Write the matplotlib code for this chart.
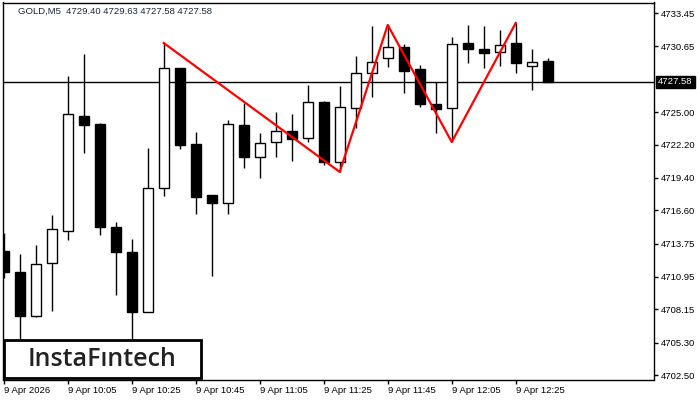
import matplotlib
matplotlib.use("Agg")
import matplotlib.pyplot as plt
from matplotlib.patches import Rectangle

plt.rcParams["font.family"] = ["Liberation Sans", "DejaVu Sans"]

# candle data (M5)
opens = [4713.14, 4711.34, 4707.58, 4712.11, 4714.85, 4724.67, 4723.99, 4715.19, 4713.05, 4707.92,
         4718.52, 4728.78, 4722.28, 4717.92, 4717.24, 4723.91, 4721.17, 4722.45, 4723.39, 4722.79,
         4725.87, 4720.74, 4725.36, 4728.35, 4729.63, 4730.57, 4728.69, 4725.70, 4725.36, 4730.91,
         4730.40, 4730.14, 4730.91, 4728.95, 4729.40]
highs = [4714.67, 4712.88, 4713.65, 4716.21, 4728.09, 4729.97, 4724.08, 4715.61, 4714.16, 4721.94,
         4730.91, 4728.78, 4723.31, 4717.92, 4724.33, 4725.79, 4723.22, 4725.02, 4724.85, 4727.32,
         4725.96, 4727.24, 4729.80, 4732.37, 4732.45, 4730.83, 4729.03, 4727.58, 4731.43, 4732.45,
         4732.37, 4732.02, 4732.62, 4730.40, 4729.63]
lows = [4710.83, 4705.44, 4707.49, 4708.01, 4714.08, 4721.51, 4714.50, 4709.37, 4705.53, 4707.92,
        4717.84, 4721.85, 4716.30, 4711.00, 4716.30, 4720.23, 4719.37, 4721.17, 4720.83, 4722.45,
        4720.49, 4719.89, 4723.65, 4726.30, 4728.86, 4726.64, 4725.44, 4723.22, 4722.45, 4729.20,
        4728.78, 4728.95, 4728.35, 4726.90, 4727.58]
closes = [4711.34, 4707.58, 4712.02, 4715.02, 4724.85, 4723.91, 4715.19, 4713.05, 4707.92, 4718.52,
          4728.78, 4722.20, 4717.75, 4717.24, 4723.99, 4721.17, 4722.37, 4723.39, 4722.71, 4725.87,
          4720.74, 4725.44, 4728.35, 4729.29, 4730.57, 4728.52, 4725.70, 4725.27, 4730.83, 4730.40,
          4730.06, 4730.74, 4729.20, 4729.29, 4727.58]

x_label_pos = [0, 4, 8, 12, 16, 20, 24, 28, 32]
x_labels = ["9 Apr 2026", "9 Apr 10:05", "9 Apr 10:25", "9 Apr 10:45", "9 Apr 11:05",
            "9 Apr 11:25", "9 Apr 11:45", "9 Apr 12:05", "9 Apr 12:25"]

y_ticks = [4733.45, 4730.65, 4725.00, 4722.20, 4719.40, 4716.60, 4713.75,
           4710.95, 4708.15, 4705.30, 4702.50]

# triple top pattern line
pattern_idx = [10, 21, 24, 28, 32]
pattern_price = [4730.91, 4719.89, 4732.45, 4722.45, 4732.62]

last_price = 4727.58
title = "GOLD,M5  4729.40 4729.63 4727.58 4727.58"

fig = plt.figure(figsize=(7, 4), dpi=100)
ax = fig.add_axes([3 / 700, 20.5 / 400, 651 / 700, 377 / 400])

for i in range(len(opens)):
    o, h, l, c = opens[i], highs[i], lows[i], closes[i]
    ax.vlines(i, l, h, color="black", lw=1, zorder=2)
    fc = "white" if c >= o else "black"
    ax.bar(i, max(abs(c - o), 0.05), bottom=min(o, c), width=0.62,
           facecolor=fc, edgecolor="black", lw=1, zorder=3)

ax.axhline(last_price, color="black", lw=1, zorder=1)
ax.plot(pattern_idx, pattern_price, color="red", lw=1.6, zorder=4)

ax.set_xlim(-0.044, 40.64)
ax.set_ylim(4702.15, 4734.37)

ax.yaxis.tick_right()
ax.set_yticks(y_ticks)
ax.set_yticklabels([f"{v:.2f}" for v in y_ticks])
ax.set_xticks(x_label_pos)
ax.set_xticklabels(x_labels, ha="left")
ax.tick_params(axis="both", direction="out", length=3, width=1, labelsize=6.8, pad=2, colors="black")
for sp in ax.spines.values():
    sp.set_linewidth(1)

ax.annotate(f"{last_price:.2f}", xy=(1, last_price), xycoords=("axes fraction", "data"),
            xytext=(3, 0), textcoords="offset points", ha="left", va="center",
            fontsize=6.8, color="white",
            bbox=dict(boxstyle="square,pad=0.2", fc="black", ec="black"))

fig.text(18 / 700, 1 - 11 / 400, title, fontsize=6.8, color="#1b2738", va="center")

# logo box
fig.add_artist(Rectangle((4 / 700, 1 - 378 / 400), 197 / 700, 38 / 400, transform=fig.transFigure,
                         facecolor="white", edgecolor="black", lw=2, zorder=5))
fig.text(102 / 700, 1 - 359 / 400, "InstaF\u0131ntech", fontsize=18, family="Open Sans",
         weight="semibold", color="#222222", ha="center", va="center", zorder=6)

fig.savefig("out.png", dpi=100)
